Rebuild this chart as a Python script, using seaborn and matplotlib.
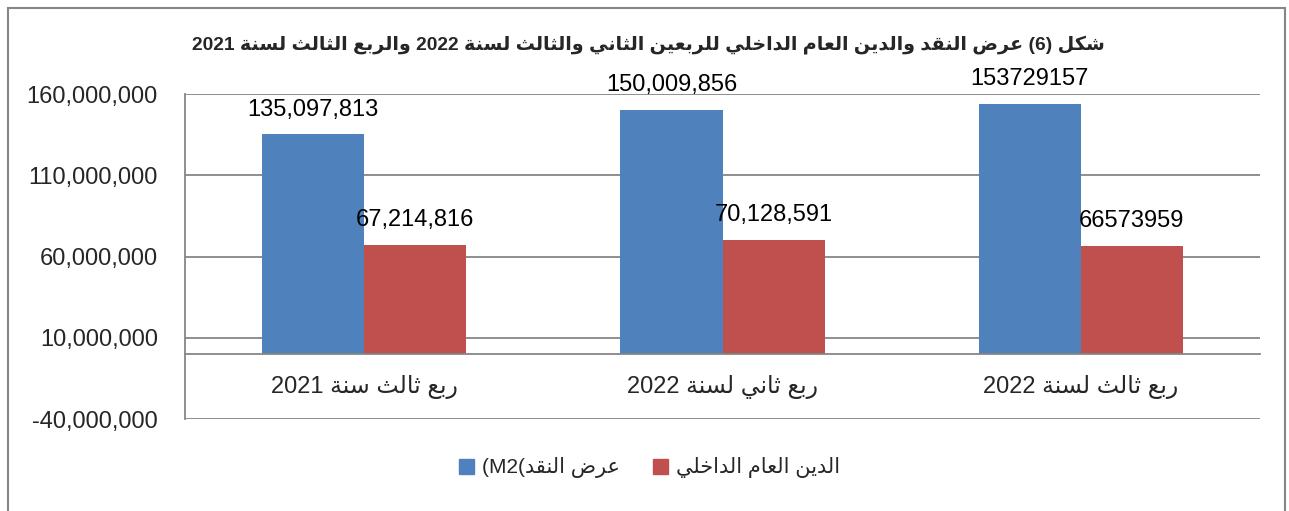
import numpy as np
import pandas as pd
import matplotlib
matplotlib.use("Agg")
import matplotlib.pyplot as plt
from matplotlib.patches import Rectangle
from matplotlib.ticker import FuncFormatter
import seaborn as sns

# --- Daten ---
categories = ["ربع ثالث سنة 2021", "ربع ثاني لسنة 2022", "ربع ثالث لسنة 2022"]
series_names = ["عرض النقد", "الدين العام الداخلي"]
m2_values = [135097813, 150009856, 153729157]
debt_values = [67214816, 70128591, 66573959]
m2_label_fmt = ["{:,}", "{:,}", "{}"]
debt_label_fmt = ["{:,}", "{:,}", "{}"]
title_text = "شكل (6) عرض النقد والدين العام الداخلي للربعين الثاني والثالث لسنة 2022 والربع الثالث لسنة 2021"
y_ticks = [-40000000, 10000000, 60000000, 110000000, 160000000]

colors = ["#4F81BD", "#C0504D"]
grid_col = "#868686"

# --- Arabische Schrift: Formen + visuelle Reihenfolge (matplotlib kann das nicht selbst) ---
_forms = {
    'ا': (0xFE8D, 2), 'ب': (0xFE8F, 4), 'ة': (0xFE93, 2), 'ت': (0xFE95, 4), 'ث': (0xFE99, 4),
    'ج': (0xFE9D, 4), 'ح': (0xFEA1, 4), 'خ': (0xFEA5, 4), 'د': (0xFEA9, 2), 'ذ': (0xFEAB, 2),
    'ر': (0xFEAD, 2), 'ز': (0xFEAF, 2), 'س': (0xFEB1, 4), 'ش': (0xFEB5, 4), 'ص': (0xFEB9, 4),
    'ض': (0xFEBD, 4), 'ط': (0xFEC1, 4), 'ظ': (0xFEC5, 4), 'ع': (0xFEC9, 4), 'غ': (0xFECD, 4),
    'ف': (0xFED1, 4), 'ق': (0xFED5, 4), 'ك': (0xFED9, 4), 'ل': (0xFEDD, 4), 'م': (0xFEE1, 4),
    'ن': (0xFEE5, 4), 'ه': (0xFEE9, 4), 'و': (0xFEED, 2), 'ى': (0xFEEF, 2), 'ي': (0xFEF1, 4),
}


def shape_word(w):
    out = []
    i = 0
    while i < len(w):
        c = w[i]
        if c not in _forms:
            out.append(c)
            i += 1
            continue
        prev = w[i - 1] if i > 0 else ""
        joins_prev = prev in _forms and _forms[prev][1] == 4
        if c == 'ل' and i + 1 < len(w) and w[i + 1] == 'ا':
            out.append(chr(0xFEFC if joins_prev else 0xFEFB))
            i += 2
            continue
        nxt = w[i + 1] if i + 1 < len(w) else ""
        base, k = _forms[c]
        joins_next = k == 4 and nxt in _forms
        if joins_prev and joins_next:
            form = 3
        elif joins_prev:
            form = 1
        elif joins_next:
            form = 2
        else:
            form = 0
        out.append(chr(base + form))
        i += 1
    return "".join(out)


def rtl(text):
    vis = []
    for w in reversed(text.split(" ")):
        if any(ch in _forms for ch in w):
            vis.append(shape_word(w)[::-1])
        else:
            vis.append(w)
    return " ".join(vis)


# --- DataFrame ---
df = pd.DataFrame({
    "Kategorie": categories * 2,
    "Reihe": [series_names[0]] * 3 + [series_names[1]] * 3,
    "Wert": m2_values + debt_values,
})

sns.set_style("white")
fams = ["Liberation Sans", "DejaVu Sans Condensed", "DejaVu Sans"]
plt.rcParams["font.family"] = fams

W, H = 1289, 511
fig = plt.figure(figsize=(W / 100, H / 100), dpi=100)
ax = fig.add_axes([185 / W, 1 - 419 / H, 1075 / W, 325 / H])

sns.barplot(
    data=df, x="Kategorie", y="Wert", hue="Reihe",
    order=categories, hue_order=series_names,
    palette=colors, saturation=1, width=0.57, gap=0,
    linewidth=0, ax=ax, legend=False,
)

# Wertebeschriftungen
for cont, vals, fmts in zip(ax.containers, [m2_values, debt_values], [m2_label_fmt, debt_label_fmt]):
    ax.bar_label(cont, labels=[f.format(v) for f, v in zip(fmts, vals)],
                 padding=10, fontsize=17, color="black")

# Spines zuerst (set_position setzt die Ticks zurück)
for s in ["top", "right"]:
    ax.spines[s].set_visible(False)
ax.spines["bottom"].set_position(("data", 0))
for s in ["left", "bottom"]:
    ax.spines[s].set_color(grid_col)
    ax.spines[s].set_linewidth(1.3)

# Achsen
ax.set_ylim(-40000000, 160000000)
ax.set_xlim(-0.5, 2.5)
ax.set_yticks(y_ticks)
ax.yaxis.set_major_formatter(FuncFormatter(lambda v, p: f"{v:,.0f}"))
ax.tick_params(axis="y", length=8, width=1.3, color=grid_col, pad=11.5, labelsize=17)
ax.set_xticks(range(len(categories)))
ax.set_xticklabels([rtl(c) for c in categories])
ax.tick_params(axis="x", length=0, pad=15, labelsize=17)
ax.set_xlabel("")
ax.set_ylabel("")

ax.grid(axis="y", color=grid_col, linewidth=1.3)
ax.set_axisbelow(True)

# Titel
fig.text(0.503, 1 - 45 / H, rtl(title_text), ha="center", va="center",
         fontsize=13.8, fontweight="bold")

# Legende
handles = [Rectangle((0, 0), 1, 1, color=c) for c in colors]
labels = ["(M2(" + rtl(series_names[0]), rtl(series_names[1])]
fig.legend(handles, labels, ncol=2, loc="center", bbox_to_anchor=(0.504, 1 - 468 / H),
           frameon=False, fontsize=15, handlelength=0.7, handleheight=0.7,
           handletextpad=0.4, columnspacing=1.6)

# Rahmen um die Grafik
fig.add_artist(Rectangle((7.5 / W, -0.05), (1285 - 7.5) / W, 1.05 - 8 / H,
                         transform=fig.transFigure, fill=False,
                         edgecolor=grid_col, linewidth=1.5))

fig.savefig("out.png", dpi=100)
